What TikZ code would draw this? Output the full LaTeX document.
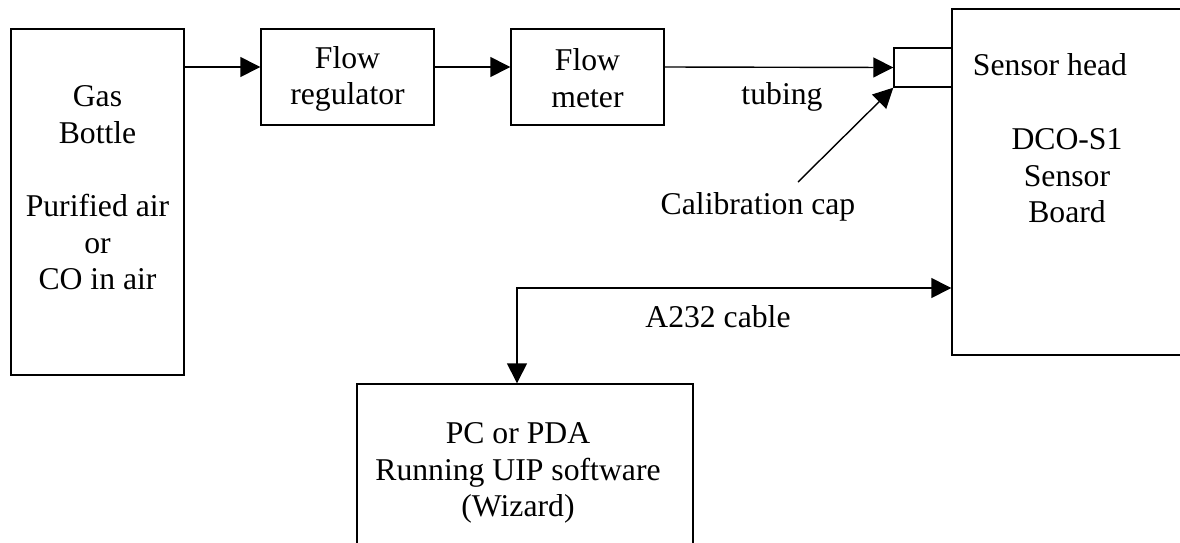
\documentclass[tikz,border=0pt]{standalone}
\usepackage{fontspec}
\setmainfont{Liberation Serif}
\usetikzlibrary{arrows.meta}
\tikzset{
  box/.style={draw, line width=0.7pt, inner sep=0pt, align=center},
  txt/.style={inner sep=0pt, align=center},
  arr/.style={line width=0.7pt, -{Triangle[length=10pt,width=10pt]}},
  biarr/.style={line width=0.7pt, {Triangle[length=10pt,width=10pt]}-{Triangle[length=10pt,width=10pt]}},
}
\begin{document}
\begin{tikzpicture}[x=0.5pt, y=-0.5pt, font=\fontsize{15.85}{18.3}\selectfont]
  \useasboundingbox (0,0) rectangle (1180,542);
  \clip (0,0) rectangle (1180,542);

  % gas supply chain
  \node[box, minimum width=86.5pt, minimum height=173pt] (gas) at (97.5,202) {};
  \node[txt] (gastxt) at (97.5,188) {Gas\\Bottle\\[18.3pt]Purified air\\or\\CO in air};
  \node[box, minimum width=86.5pt, minimum height=48pt] (freg) at (347.5,77) {};
  \node[txt] (fregtxt) at (347.5,79) {Flow\\regulator};
  \node[box, minimum width=76.5pt, minimum height=48pt] (fmet) at (587.5,77) {};
  \node[txt] (fmettxt) at (587.5,78) {Flow\\meter};

  % sensor board with its calibration cap
  \node[box, minimum width=124pt, minimum height=173pt] (board) at (1076,182) {};
  \node[box, minimum width=29pt, minimum height=19.5pt] (cap) at (923,67.5) {};
  \node[txt] (headtxt) at (1050,65) {Sensor head};
  \node[txt] (boardtxt) at (1067,176) {DCO-S1\\Sensor\\Board};

  % host computer
  \node[box, minimum width=168pt, minimum height=93pt] (pc) at (525,477) {};
  \node[txt] (pctxt) at (518,473) {PC or PDA\\Running UIP software\\(Wizard)};

  % labels
  \node[txt] (tubing) at (782,97) {tubing};
  \node[txt] (callbl) at (758,207) {Calibration cap};
  \node[txt] (cablelbl) at (718,317) {A232 cable};

  % gas flow line
  \coordinate (row) at (0,67);
  \draw[arr] (gas.east |- row) -- (freg.west |- row);
  \draw[arr] (freg.east |- row) -- (fmet.west |- row);
  \draw[arr] (fmet.east |- row) -- (cap.west);

  % pointer to the calibration cap
  \coordinate (calstart) at (798,182);
  \draw[arr] (calstart) -- (cap.south west);

  % serial link between board and PC
  \coordinate (bend) at (517,288);
  \draw[biarr] (board.west |- bend) -- (bend) -- (bend |- pc.north);
\end{tikzpicture}
\end{document}
